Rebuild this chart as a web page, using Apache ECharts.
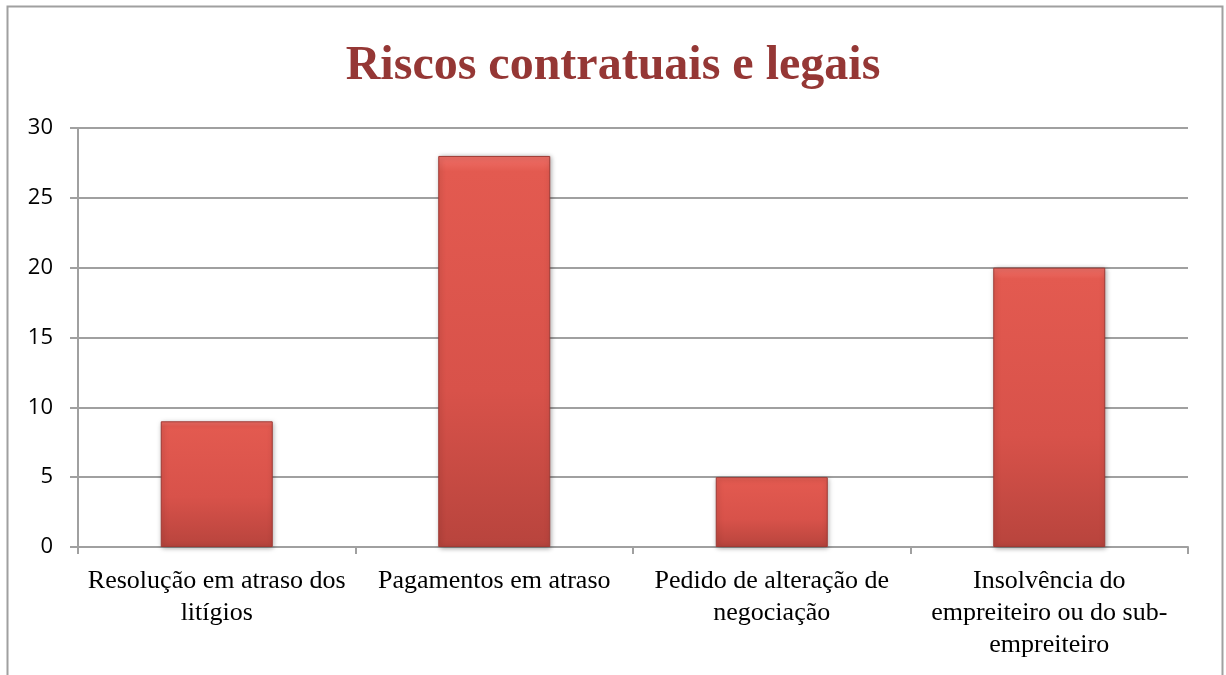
<!DOCTYPE html>
<html>
<head>
<meta charset="utf-8">
<script src="https://cdn.jsdelivr.net/npm/echarts@6/dist/echarts.min.js"></script>
<style>
html, body { margin: 0; padding: 0; background: #fff; }
#chart { width: 1226px; height: 675px; }
</style>
</head>
<body>
<div id="chart"></div>
<script>
var categorias = ['Resolução em atraso dos\nlitígios', 'Pagamentos em atraso', 'Pedido de alteração de\nnegociação', 'Insolvência do\nempreiteiro ou do sub-\nempreiteiro'];
var valores = [9, 28, 5, 20];

var myChart = echarts.init(document.getElementById('chart'));

var option = {
    animation: false,
    title: {
        text: 'Riscos contratuais e legais',
        left: 'center',
        top: 38,
        textStyle: {
            fontFamily: 'Liberation Serif',
            fontSize: 48,
            fontWeight: 'bold',
            color: '#953735'
        }
    },
    // moldura do gráfico
    graphic: [{
        type: 'rect',
        shape: { x: 7.5, y: 6.5, width: 1215, height: 700 },
        style: { fill: 'none', stroke: '#a0a0a0', lineWidth: 2 },
        silent: true
    }],
    grid: {
        left: 78,
        right: 38,
        top: 128,
        bottom: 128
    },
    xAxis: {
        type: 'category',
        data: categorias,
        axisLine: { lineStyle: { color: '#a0a0a0', width: 2 } },
        axisTick: { show: true, length: 7, lineStyle: { color: '#a0a0a0', width: 2 } },
        axisLabel: {
            interval: 0,
            margin: 18,
            fontFamily: 'Liberation Serif',
            fontSize: 26,
            lineHeight: 32,
            color: '#000'
        }
    },
    yAxis: {
        type: 'value',
        min: 0,
        max: 30,
        interval: 5,
        axisLine: { show: true, lineStyle: { color: '#a0a0a0', width: 2 } },
        axisTick: { show: true, length: 8, lineStyle: { color: '#a0a0a0', width: 2 } },
        splitLine: { lineStyle: { color: '#a0a0a0', width: 2 } },
        axisLabel: {
            margin: 25,
            fontFamily: 'Open Sans',
            fontSize: 22,
            color: '#000'
        }
    },
    series: [{
        type: 'bar',
        data: valores,
        barWidth: 112,
        itemStyle: {
            color: new echarts.graphic.LinearGradient(0, 0, 0, 1, [
                { offset: 0, color: '#f07068' },
                { offset: 0.04, color: '#e35a50' },
                { offset: 0.6, color: '#d8524a' },
                { offset: 1, color: '#b8443d' }
            ]),
            borderColor: '#9e3a34',
            borderWidth: 1,
            shadowColor: 'rgba(0,0,0,0.35)',
            shadowBlur: 5,
            shadowOffsetX: 1,
            shadowOffsetY: 1
        }
    }]
};

myChart.setOption(option);
</script>
</body>
</html>
